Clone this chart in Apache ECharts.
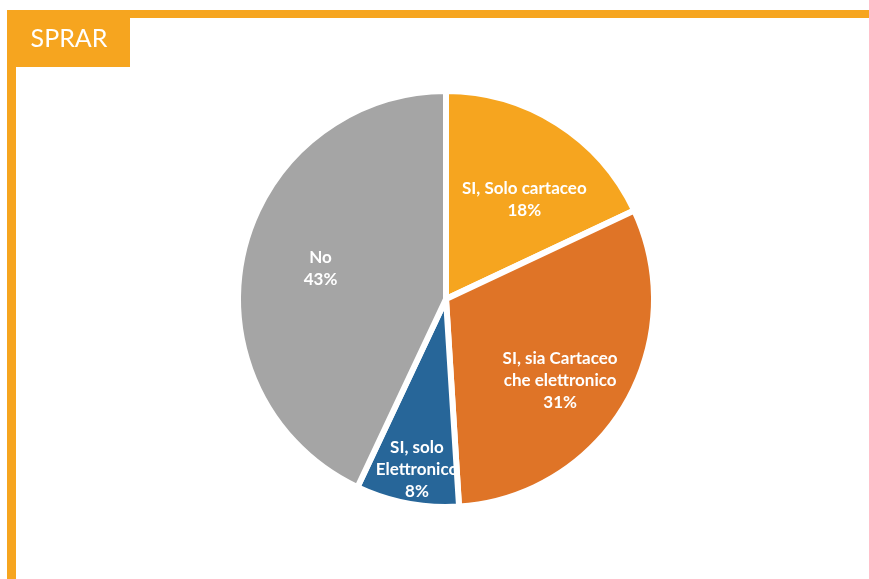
<!DOCTYPE html>
<html>
<head>
<meta charset="utf-8">
<script src="https://cdn.jsdelivr.net/npm/echarts@6/dist/echarts.min.js"></script>
<style>
  html, body { margin: 0; padding: 0; background: #fff; }
  #main { width: 869px; height: 579px; }
</style>
</head>
<body>
<div id="main"></div>
<script>
// dati del grafico
var categorie = ['SI, Solo cartaceo', 'SI, sia Cartaceo\nche elettronico', 'SI, solo\nElettronico', 'No'];
var valori = [18, 31, 8, 43];
var colori = ['#F6A51F', '#DF7427', '#276699', '#A5A5A5'];
// spostamento etichette rispetto al centro del raggio
var spostamentoEtichette = [[21, -9], [22, 27], [-9, 65], [-21, -7]];

var arancio = '#F6A51F';

var myChart = echarts.init(document.getElementById('main'));

var dati = [];
for (var i = 0; i < categorie.length; i++) {
	dati.push({
		name: categorie[i],
		value: valori[i],
		itemStyle: { color: colori[i] }
	});
}

var option = {
	backgroundColor: '#fff',
	animation: false,
	graphic: [
		// cornice superiore
		{ type: 'rect', shape: { x: 7, y: 10, width: 862, height: 8 }, style: { fill: arancio } },
		// cornice sinistra
		{ type: 'rect', shape: { x: 7, y: 10, width: 9, height: 569 }, style: { fill: arancio } },
		// box titolo
		{ type: 'rect', shape: { x: 7, y: 10, width: 123, height: 57 }, style: { fill: arancio } },
		{
			type: 'text', x: 69, y: 39,
			style: {
				text: 'SPRAR', fill: '#fff', font: '25px Lato',
				textAlign: 'center', textVerticalAlign: 'middle'
			}
		}
	],
	series: [
		{
			type: 'pie',
			center: [446, 299],
			radius: 208,
			startAngle: 90,
			clockwise: true,
			itemStyle: { borderColor: '#fff', borderWidth: 6 },
			label: {
				show: true,
				position: 'inside',
				formatter: '{b}\n{c}%',
				color: '#fff',
				fontFamily: 'Lato',
				fontWeight: 'bold',
				fontSize: 17,
				lineHeight: 22,
				align: 'center'
			},
			labelLayout: function (params) {
				var s = spostamentoEtichette[params.dataIndex];
				return { dx: s[0], dy: s[1] };
			},
			labelLine: { show: false },
			emphasis: { disabled: true },
			data: dati
		}
	]
};
myChart.setOption(option);
</script>
</body>
</html>
